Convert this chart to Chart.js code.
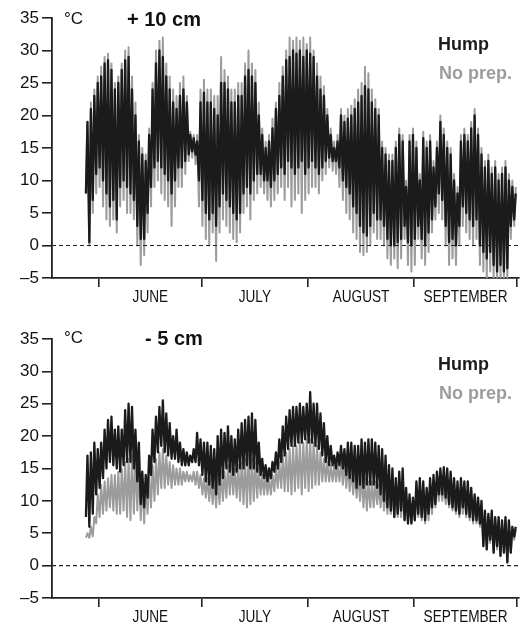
<!DOCTYPE html>
<html>
<head>
<meta charset="utf-8">
<script src="https://cdn.jsdelivr.net/npm/chart.js@4.4.0/dist/chart.umd.min.js"></script>
<style>
  html, body { margin: 0; padding: 0; background: #fff; }
  #wrap { width: 525px; height: 627px; }
  canvas { display: block; }
</style>
</head>
<body>
<div id="wrap">
  <canvas id="top" width="525" height="310"></canvas>
  <canvas id="bottom" width="525" height="317"></canvas>
</div>
<script>
// x values are days counted from 1 June; first reading is 28 May
var firstDay = -4;
var monthStarts = [0, 30, 61, 92, 122];
var monthNames = ['JUNE', 'JULY', 'AUGUST', 'SEPTEMBER'];
var yTicks = [-5, 0, 5, 10, 15, 20, 25, 30, 35];

// daily max / min, +10 cm
var hump10Max = [
  19, 21, 23, 25, 26, 28, 28.5, 27, 24, 25,
  27, 28.5, 29, 24, 20, 16, 14, 13, 17, 24,
  28, 30, 29, 26, 24, 22, 21, 23, 24, 22,
  17, 16.5, 16, 22, 23.5, 22, 22, 21, 20, 25,
  25, 24, 22, 22, 23, 23, 26, 27, 26, 25,
  20, 17, 15, 16, 18, 21, 23, 26, 28.5, 29,
  30, 29.5, 30, 29, 30, 29.5, 29, 26, 24, 23,
  20, 17, 15, 16, 20, 19, 19.5, 20, 21, 22,
  23, 24.5, 24, 22, 21, 20, 15, 14, 13, 13,
  15, 17, 16, 9, 16, 17, 15, 10, 16.5, 15,
  16, 12, 15, 19, 17, 15, 14, 10, 8, 16,
  17, 16, 18, 20, 17, 14, 12, 13, 11, 12,
  10, 11, 12, 10, 9, 8
];
var hump10Min = [
  8, 0.5, 7, 11, 12, 10, 8, 6, 7, 4,
  9, 10, 9, 8, 7, 3, 1, 1, 5, 9,
  12, 13, 12, 11, 10, 8, 10, 12, 12, 13,
  14, 14.5, 14, 10, 7, 5, 4, 5, 3, 6,
  8, 7, 6, 5, 4, 5, 8, 9, 8, 10,
  11, 11, 10, 10, 9, 10, 11, 12, 11, 13,
  12, 11, 12, 13, 11, 12, 13, 12, 11, 12,
  13, 13.5, 13, 13, 12, 10, 9, 8, 6, 5,
  3, 2, 1.5, 3, 5, 4, 4, 3, 1, 0,
  0, 0.5, 1, 3, 0.5, 0, 1, 3, 1, 0,
  2, 4, 6, 8, 7, 3, 0.5, 1, 0, 3,
  6, 5, 4, 3, 4, 0, -1, -2, -1, -3,
  -4, -3, -4, -3.5, 3, 4
];
var noPrep10Max = [
  19, 22, 24, 26, 27.5, 29, 29.5, 28, 25, 26,
  28, 30, 30.5, 26, 22, 17, 15, 14, 18, 25,
  30, 31.5, 32, 28, 26, 24, 23, 25, 26, 23,
  17.5, 17, 17, 24, 25.5, 24, 24, 23, 23, 29,
  27, 26, 24, 24, 25, 25, 28, 30, 28, 27,
  22, 18, 16, 17, 19.5, 22, 25, 27.5, 30, 32,
  31.5, 32, 31.5, 32, 31, 32, 30, 28, 26, 24.5,
  21, 18, 16, 17, 21, 20, 21, 21.5, 22.5, 24,
  25, 27.5, 26.5, 24, 22.5, 21, 16, 15, 14, 14,
  16, 18, 17, 10, 17, 18, 16, 11, 17.5, 16,
  17, 13, 16, 20, 18, 16, 15, 11, 9, 17,
  18, 17, 19, 21, 18, 15, 13, 14, 12, 13,
  11, 12, 13, 11, 10, 9
];
var noPrep10Min = [
  8, 0, 5, 8, 9, 6, 4, 3, 4, 2,
  6, 7, 5, 5, 4, 0, -3, -1.5, 2, 6,
  9, 10, 8, 7, 6, 3, 6, 9, 9, 11,
  13, 13.5, 12.5, 6, 3, 1, 0, 2, -2.4, 2,
  4, 3, 2, 1, 0.5, 2, 5, 6, 4, 7,
  8, 9, 8, 7, 6, 7, 8, 9, 7, 9,
  6, 7, 8, 5, 7, 8, 9, 9, 8, 10,
  11, 12, 11.5, 11, 9, 7, 5, 4, 2, 1,
  -1, -1.5, -1, 0, 2, 1, 1, 0, -2, -3,
  -2, -3.5, -2, 1, -3, -4, -3, 1, -2, -3,
  -1, 2, 4, 5, 4, 0, -3, -2, -3, 0,
  3, 2, 1, 0, 1, -3, -4, -5, -4, -5,
  -5, -5, -5, -5, 1, 3
];

// daily max / min, -5 cm
var hump5Max = [
  17, 17.5, 19, 18, 19, 21, 22.5, 23, 21, 21.5,
  21, 24, 25, 24.5, 21, 19, 14.5, 14, 17, 21,
  23, 24.5, 25.5, 23.5, 22, 20, 21, 19, 18, 17.5,
  17, 18, 20.5, 19.5, 19, 19, 18.5, 18, 20, 21,
  20.5, 21.5, 20, 19.5, 21, 22, 22.5, 23, 23.5, 22.5,
  19, 16.5, 15.5, 15, 16, 17.5, 19.5, 21.5, 23, 24,
  24.5, 24.5, 25, 24.5, 25, 26.8, 25, 25, 23.5, 22,
  20, 18.5, 17, 17.5, 18.5, 18, 19, 19, 18.5, 18.5,
  19.5, 19, 19.5, 19.5, 19, 18.5, 18, 17, 15.5, 15,
  13.5, 14.5, 15, 12, 11, 10.5, 13, 13.5, 13, 12,
  13.5, 14, 14.5, 15, 15.2, 15, 14.5, 13.5, 13, 13.5,
  13, 13, 12, 11, 10.5, 10, 8.5, 8, 8.5, 7.5,
  7.5, 7, 7.5, 7, 6, 6
];
var hump5Min = [
  7.5, 6, 8, 11, 12, 13.5, 15, 16, 15.5, 15,
  14.5, 15.5, 16, 16, 15, 13, 9.5, 9, 10.5, 14,
  16, 17.5, 18.5, 17.5, 17, 16.5, 16.5, 16, 15.5, 15.5,
  15.5, 16, 16, 15.5, 14, 13, 12.5, 12, 11, 12.5,
  13.5, 15, 14.5, 14, 14.5, 15, 15, 15.5, 15, 15,
  14.5, 14, 13.5, 13, 13.5, 14.5, 15, 16, 17, 18,
  18.5, 18.5, 19, 19, 19.5, 19, 19, 18.5, 18, 17,
  16, 15.5, 15.5, 15, 15.5, 15, 14, 13.5, 13, 12,
  12.5, 12, 12.5, 12.5, 12.5, 12, 11, 10, 9, 8.5,
  7.5, 8, 8.5, 7, 6.5, 6.5, 7, 8, 7.5, 7,
  8, 9, 9.5, 11, 11, 10.5, 9.5, 9, 8.5, 8,
  9, 8, 7.5, 7, 7, 6.5, 3, 2.5, 4, 2,
  3, 1.5, 2, 0.5, 2, 4.5
];
var noPrep5Max = [
  5, 6, 7.5, 11, 12.5, 13, 13.5, 14, 14, 14.5,
  15, 16, 16.5, 17, 16.5, 15.5, 13.5, 13, 14, 15.5,
  16.5, 17.5, 18, 17, 16, 15.5, 15, 15, 14.5, 14.5,
  14, 14.5, 14.5, 14, 13.5, 13.5, 13.5, 13.5, 14, 14.5,
  14.5, 15.5, 15.5, 15, 15.5, 16, 16.5, 17, 16.5, 16,
  15, 14, 14, 13.5, 14, 15, 16, 17, 17.5, 18,
  18.5, 18.5, 19, 19, 19.5, 19.5, 19, 18.5, 17.5, 16.5,
  16, 15.5, 15.5, 15.5, 16, 16, 15.5, 15, 14.5, 14,
  14, 13.5, 13, 13, 13, 12.5, 12.5, 12, 12, 11.5,
  11, 11.5, 11.5, 10.5, 10, 10, 11, 11.5, 11.5, 11,
  11.5, 12, 12.5, 13, 12.5, 12, 12, 12, 11.5, 11.5,
  11.5, 11, 10.5, 10, 9.5, 9, 8, 7.5, 8, 7,
  7, 6.5, 7, 6.5, 5.5, 5.5
];
var noPrep5Min = [
  4.3, 4.3, 4.5, 6.5, 7.5, 8, 8.5, 9, 8.5, 8,
  8, 8.5, 7.5, 7, 8, 8.5, 7, 6.5, 8, 9,
  10, 11, 12, 12, 12.5, 12, 12.5, 12.5, 12.5, 13,
  13, 13, 12.5, 12, 11, 10.5, 10, 9.5, 9, 9.5,
  10, 10.5, 11, 11, 10.5, 10, 9.5, 9, 9.5, 10,
  10.5, 11, 11, 11, 11, 11.5, 12, 12, 11.5, 11.5,
  11, 11.5, 12, 11, 12, 11.5, 12, 12.5, 12.5, 13,
  13, 13, 13, 13, 13, 12.5, 12, 11.5, 11, 10.5,
  10, 9, 8.5, 9, 9, 9.5, 9, 8.5, 8, 8,
  7.5, 7.5, 7.5, 7, 6.5, 6.5, 7, 7.5, 7, 6.5,
  7, 8, 9, 10, 10, 9.5, 9, 8.5, 8, 7.5,
  8, 7.5, 7, 6.5, 6.5, 6, 3, 2.5, 3.5, 2,
  2.5, 1.5, 2, 0.5, 2, 4
];

var HUMP = '#1b1b1b';
var NOPREP = '#9c9c9c';
var AXIS = '#222';
var FONT = '"Liberation Sans", Arial, sans-serif';

// one low (early morning) and one high (afternoon) per day
function diurnal(mins, maxs) {
  var pts = [];
  for (var i = 0; i < mins.length; i++) {
    pts.push({ x: firstDay + i + 0.2, y: mins[i] });
    pts.push({ x: firstDay + i + 0.65, y: maxs[i] });
  }
  return pts;
}

// zero line, month names and panel texts
function panelPlugin(depth, marks) {
  return {
    id: 'panel',
    afterDatasetsDraw: function(chart) {
      var ctx = chart.ctx, area = chart.chartArea;
      var y0 = chart.scales.y.getPixelForValue(0);

      ctx.save();
      ctx.strokeStyle = AXIS;
      ctx.lineWidth = 1.2;
      ctx.setLineDash([4, 3]);
      ctx.beginPath();
      ctx.moveTo(area.left, y0);
      ctx.lineTo(area.right, y0);
      ctx.stroke();
      ctx.restore();
    },
    afterDraw: function(chart) {
      var ctx = chart.ctx, area = chart.chartArea;
      var xs = chart.scales.x;

      ctx.save();
      ctx.fillStyle = '#111';
      ctx.textBaseline = 'middle';
      ctx.textAlign = 'center';
      ctx.font = '17px ' + FONT;
      for (var m = 0; m < monthNames.length; m++) {
        var cx = (xs.getPixelForValue(monthStarts[m]) + xs.getPixelForValue(monthStarts[m + 1])) / 2;
        ctx.save();
        ctx.translate(cx, area.bottom + 19);
        ctx.scale(0.8, 1);
        ctx.fillText(monthNames[m], 0, 0);
        ctx.restore();
      }

      ctx.textAlign = 'left';
      ctx.font = '17px ' + FONT;
      ctx.fillText('\u00b0C', area.left + 12, area.top + marks.unitY);
      ctx.font = 'bold 20px ' + FONT;
      ctx.fillText(depth, area.left + marks.depthX, area.top + marks.unitY + 1);

      ctx.font = 'bold 18px ' + FONT;
      ctx.fillStyle = HUMP;
      ctx.fillText('Hump', area.left + 386, area.top + marks.legendY);
      ctx.fillStyle = NOPREP;
      ctx.fillText('No prep.', area.left + 387, area.top + marks.legendY + 29);
      ctx.restore();
    }
  };
}

function makeChart(id, depth, hMin, hMax, nMin, nMax, pad, xHeight, marks) {
  return new Chart(document.getElementById(id), {
    type: 'line',
    data: {
      datasets: [
        { label: 'Hump', data: diurnal(hMin, hMax), borderColor: HUMP, borderWidth: 2.3, order: 1 },
        { label: 'No prep.', data: diurnal(nMin, nMax), borderColor: NOPREP, borderWidth: 2, order: 2 }
      ]
    },
    options: {
      responsive: false,
      animation: false,
      elements: { point: { radius: 0 }, line: { tension: 0, borderJoinStyle: 'round' } },
      layout: { padding: { top: pad, left: 0, right: 6, bottom: 0 } },
      plugins: { legend: { display: false }, tooltip: { enabled: false } },
      scales: {
        x: {
          type: 'linear',
          min: -13.7,
          max: 122.6,
          afterBuildTicks: function(s) {
            s.ticks = monthStarts.map(function(v) { return { value: v }; });
          },
          ticks: { callback: function() { return ''; } },
          grid: { drawOnChartArea: false, tickLength: 9, color: AXIS, lineWidth: 1.6 },
          border: { color: AXIS, width: 1.8 },
          afterFit: function(s) { s.height = xHeight; }
        },
        y: {
          min: -5,
          max: 35,
          afterBuildTicks: function(s) {
            s.ticks = yTicks.map(function(v) { return { value: v }; });
          },
          ticks: {
            color: '#111',
            padding: 3,
            font: { family: FONT, size: 17 },
            callback: function(v) { return v < 0 ? '\u2013' + Math.abs(v) : String(v); }
          },
          grid: { drawOnChartArea: false, tickLength: 10, color: AXIS, lineWidth: 1.6 },
          border: { color: AXIS, width: 1.8 },
          afterFit: function(s) { s.width = 52; }
        }
      }
    },
    plugins: [panelPlugin(depth, marks)]
  });
}

makeChart('top', '+ 10 cm', hump10Min, hump10Max, noPrep10Min, noPrep10Max,
  18, 32, { unitY: 1, depthX: 75, legendY: 27 });
makeChart('bottom', '- 5 cm', hump5Min, hump5Max, noPrep5Min, noPrep5Max,
  29, 29, { unitY: -1, depthX: 93, legendY: 26 });
</script>
</body>
</html>
